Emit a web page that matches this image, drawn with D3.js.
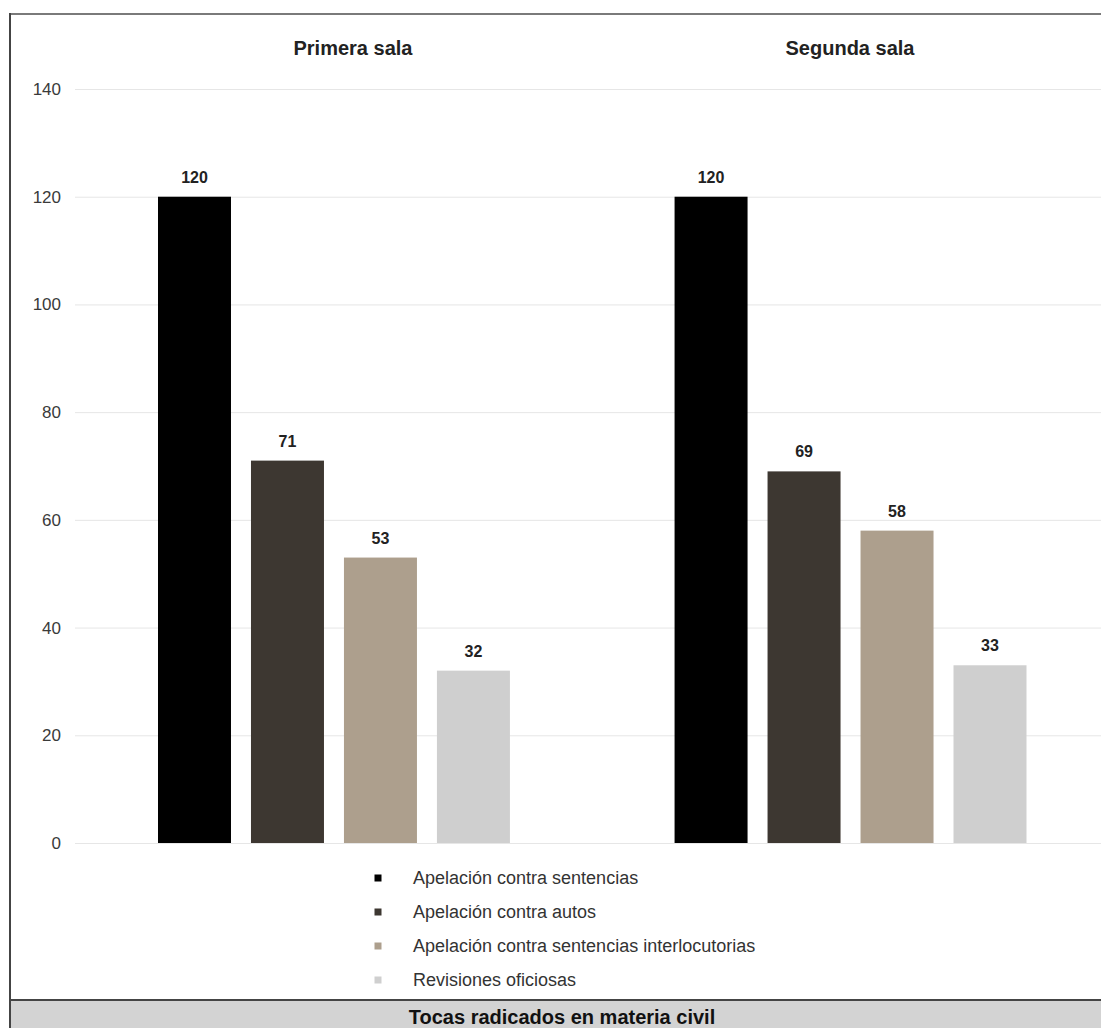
<!DOCTYPE html>
<html><head><meta charset="utf-8">
<script src="https://cdn.jsdelivr.net/npm/d3@7"></script>
<style>body{margin:0;background:#fff}svg{display:block}text{font-family:"Liberation Sans",Arial,sans-serif}</style>
</head><body>
<svg id="c" width="1101" height="1028"></svg>
<script>
const groups = ["Primera sala", "Segunda sala"];
const seriesNames = ["Apelación contra sentencias", "Apelación contra autos", "Apelación contra sentencias interlocutorias", "Revisiones oficiosas"];
const primeraSala = [120, 71, 53, 32];
const segundaSala = [120, 69, 58, 33];
const colors = ["#000000", "#3d3731", "#ad9f8d", "#cfcfcf"];
const yTicks = [0, 20, 40, 60, 80, 100, 120, 140];
const chartTitle = "Tocas radicados en materia civil";

const values = [primeraSala, segundaSala];
const data = groups.map((g, gi) => ({group: g, vals: seriesNames.map((s, si) => ({s, si, v: values[gi][si]}))}));

const svg = d3.select("#c");
const y = d3.scaleLinear().domain([0, 140]).range([843, 89]);
const x0 = d3.scaleBand().domain(groups).range([148, 1036.5]).paddingInner(0.28).paddingOuter(0);
const x1 = d3.scaleBand().domain(seriesNames).range([0, x0.bandwidth()]).paddingInner(0.215).paddingOuter(0.1075);

// gridlines
const yAxis = d3.axisLeft(y).tickValues(yTicks).tickSize(-(1101 - 75)).tickPadding(14).tickFormat(d3.format("d"));
const ga = svg.append("g").attr("transform", "translate(75,0)").call(yAxis);
ga.select(".domain").remove();
ga.selectAll(".tick line").attr("stroke", "#e6e6e6").attr("stroke-width", 1);
ga.selectAll(".tick text").attr("font-size", 17).attr("fill", "#3a3a3a").attr("font-family", "Liberation Sans, Arial, sans-serif");

// panel titles
svg.selectAll(".ptitle").data(groups).enter().append("text")
  .attr("x", (d, i) => i === 0 ? 353 : 850).attr("y", 55)
  .attr("text-anchor", "middle").attr("font-size", 20).attr("font-weight", "bold").attr("fill", "#222")
  .text(d => d);

// bars
const gg = svg.selectAll(".grp").data(data).enter().append("g")
  .attr("transform", d => `translate(${x0(d.group)},0)`);
gg.selectAll("rect").data(d => d.vals).enter().append("rect")
  .attr("x", d => x1(d.s)).attr("width", x1.bandwidth())
  .attr("y", d => y(d.v)).attr("height", d => y(0) - y(d.v))
  .attr("fill", d => colors[d.si]);
gg.selectAll("text.val").data(d => d.vals).enter().append("text")
  .attr("class", "val")
  .attr("x", d => x1(d.s) + x1.bandwidth() / 2).attr("y", d => y(d.v) - 14)
  .attr("text-anchor", "middle").attr("font-size", 16).attr("font-weight", "bold").attr("fill", "#222")
  .text(d => d.v);

// legend
const lg = svg.selectAll(".leg").data(seriesNames).enter().append("g")
  .attr("transform", (d, i) => `translate(378,${878 + i * 34})`);
lg.append("rect").attr("x", -3.5).attr("y", -3.5).attr("width", 7).attr("height", 7).attr("fill", (d, i) => colors[i]);
lg.append("text").attr("x", 35).attr("y", 6).attr("font-size", 18).attr("fill", "#333").text(d => d);

// frame
svg.append("rect").attr("x", 10).attr("y", 1000).attr("width", 1091).attr("height", 28).attr("fill", "#d3d3d3");
svg.append("line").attr("x1", 10).attr("x2", 1101).attr("y1", 1000).attr("y2", 1000).attr("stroke", "#444").attr("stroke-width", 2);
svg.append("line").attr("x1", 10).attr("x2", 1101).attr("y1", 14).attr("y2", 14).attr("stroke", "#7a7a7a").attr("stroke-width", 2);
svg.append("line").attr("x1", 10).attr("x2", 10).attr("y1", 13).attr("y2", 1028).attr("stroke", "#444").attr("stroke-width", 2);
svg.append("text").attr("x", 562).attr("y", 1024).attr("text-anchor", "middle")
  .attr("font-size", 20).attr("font-weight", "bold").attr("fill", "#111").text(chartTitle);
</script>
</body></html>
